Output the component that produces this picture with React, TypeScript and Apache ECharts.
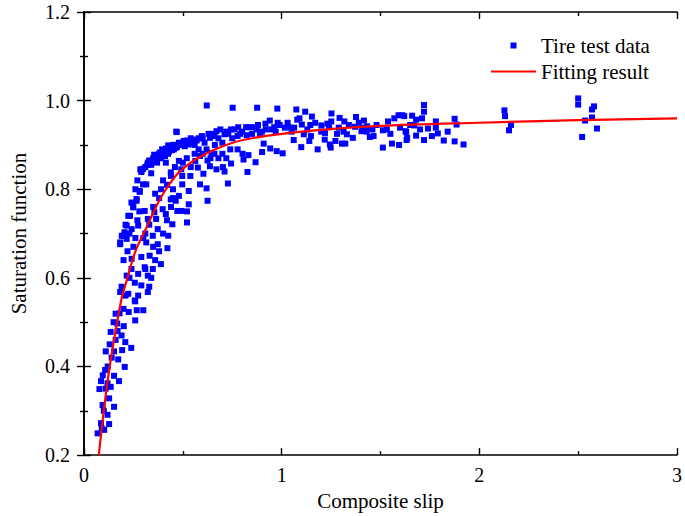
import React, { useEffect, useRef } from "react";
import * as echarts from "echarts";

// Tire test data, low slip region (x < 0.3)
const lowSlipData: [number, number][] = [
  [0.069, 0.249], [0.102, 0.257], [0.086, 0.272], [0.127, 0.27], [0.119, 0.291],
  [0.094, 0.313], [0.152, 0.309], [0.127, 0.328], [0.078, 0.349], [0.135, 0.354],
  [0.086, 0.367], [0.119, 0.362], [0.177, 0.367], [0.152, 0.379], [0.107, 0.392],
  [0.206, 0.399], [0.173, 0.416], [0.11, 0.434], [0.152, 0.434], [0.193, 0.437],
  [0.239, 0.442], [0.209, 0.455], [0.19, 0.47], [0.135, 0.478], [0.201, 0.491],
  [0.168, 0.497], [0.259, 0.504], [0.16, 0.519], [0.226, 0.523], [0.267, 0.527],
  [0.259, 0.547], [0.257, 0.549], [0.183, 0.568], [0.224, 0.564], [0.274, 0.56],
  [0.257, 0.589], [0.29, 0.583], [0.216, 0.605], [0.274, 0.609], [0.241, 0.643],
  [0.29, 0.647], [0.183, 0.676], [0.216, 0.688], [0.191, 0.695], [0.205, 0.703],
  [0.241, 0.71], [0.274, 0.718], [0.216, 0.718], [0.233, 0.74], [0.249, 0.759],
  [0.266, 0.774], [0.282, 0.794], [0.183, 0.68], [0.2, 0.695], [0.224, 0.74],
  [0.249, 0.762], [0.266, 0.778], [0.282, 0.796], [0.299, 0.811], [0.29, 0.841],
  [0.299, 0.846], [0.29, 0.839], [0.3, 0.527],
  [0.09, 0.26], [0.1, 0.3], [0.11, 0.35], [0.095, 0.38], [0.12, 0.4],
  [0.14, 0.42], [0.13, 0.45], [0.16, 0.46], [0.17, 0.48], [0.15, 0.5],
  [0.18, 0.52], [0.2, 0.53], [0.21, 0.56], [0.19, 0.58], [0.23, 0.6],
  [0.24, 0.62], [0.2, 0.64], [0.22, 0.66], [0.25, 0.67], [0.26, 0.69],
  [0.23, 0.7], [0.21, 0.72], [0.27, 0.73], [0.28, 0.75], [0.24, 0.77],
  [0.26, 0.8], [0.27, 0.82], [0.285, 0.845],
];

// Tire test data, transition region (0.3 <= x < 1.0)
const midSlipData: [number, number][] = [
  [0.315, 0.811], [0.323, 0.86], [0.348, 0.864], [0.34, 0.836], [0.373, 0.871],
  [0.398, 0.882], [0.426, 0.899], [0.455, 0.89], [0.469, 0.929], [0.414, 0.86],
  [0.48, 0.864], [0.439, 0.838], [0.492, 0.845], [0.307, 0.751], [0.323, 0.733],
  [0.356, 0.748], [0.365, 0.733], [0.398, 0.755], [0.414, 0.744], [0.439, 0.777],
  [0.48, 0.785], [0.492, 0.751], [0.447, 0.721], [0.426, 0.695], [0.373, 0.71],
  [0.348, 0.695], [0.315, 0.68], [0.373, 0.676], [0.422, 0.667], [0.332, 0.65],
  [0.389, 0.631], [0.348, 0.62], [0.307, 0.624], [0.323, 0.605], [0.323, 0.568],
  [0.31, 0.85], [0.33, 0.865], [0.35, 0.87], [0.36, 0.875], [0.38, 0.88],
  [0.4, 0.885], [0.42, 0.89], [0.44, 0.895], [0.46, 0.9], [0.48, 0.905],
  [0.5, 0.905], [0.52, 0.91], [0.55, 0.905], [0.57, 0.91], [0.6, 0.915],
  [0.39, 0.87], [0.41, 0.875], [0.43, 0.885], [0.34, 0.855], [0.37, 0.86],
  [0.431, 0.897], [0.464, 0.894], [0.505, 0.909], [0.53, 0.901], [0.563, 0.912],
  [0.596, 0.92], [0.637, 0.916], [0.67, 0.931], [0.662, 0.9], [0.711, 0.924],
  [0.744, 0.935], [0.777, 0.92], [0.823, 0.922], [0.835, 0.94], [0.873, 0.935],
  [0.918, 0.948], [0.962, 0.94], [0.909, 0.903], [0.942, 0.892], [0.975, 0.886],
  [0.901, 0.884], [0.777, 0.89], [0.802, 0.88], [0.832, 0.877], [0.807, 0.867],
  [0.868, 0.861], [0.827, 0.839], [0.728, 0.813], [0.645, 0.882], [0.587, 0.875],
  [0.563, 0.864], [0.625, 0.865], [0.637, 0.852], [0.67, 0.845], [0.703, 0.85],
  [0.744, 0.858], [0.711, 0.84], [0.604, 0.835], [0.576, 0.849], [0.587, 0.811],
  [0.62, 0.802], [0.625, 0.774], [0.53, 0.796], [0.497, 0.83], [0.538, 0.83],
  [0.497, 0.811], [0.53, 0.766], [0.521, 0.75], [0.464, 0.774], [0.472, 0.751],
  [0.521, 0.725], [0.621, 0.989], [0.752, 0.984], [0.876, 0.984], [0.978, 0.982],
  [0.467, 0.93], [0.65, 0.925], [0.68, 0.915], [0.72, 0.93], [0.75, 0.915],
  [0.8, 0.93], [0.85, 0.925], [0.88, 0.945], [0.9, 0.93], [0.95, 0.935],
  [0.98, 0.95], [0.7, 0.905], [0.78, 0.94],
  [0.3, 0.69], [0.31, 0.7], [0.33, 0.72], [0.35, 0.76], [0.36, 0.79],
  [0.38, 0.78], [0.39, 0.8], [0.4, 0.82], [0.42, 0.81], [0.44, 0.83],
  [0.45, 0.8], [0.46, 0.85], [0.5, 0.86], [0.52, 0.87], [0.54, 0.85],
  [0.56, 0.88], [0.58, 0.89], [0.6, 0.88], [0.62, 0.89], [0.64, 0.87],
  [0.66, 0.88], [0.68, 0.87], [0.7, 0.88], [0.72, 0.87], [0.74, 0.89],
  [0.34, 0.6], [0.36, 0.64], [0.38, 0.66], [0.4, 0.7], [0.42, 0.73],
  [0.44, 0.76], [0.33, 0.58], [0.31, 0.62], [0.35, 0.67], [0.45, 0.78],
  [0.32, 0.855], [0.345, 0.862], [0.355, 0.878], [0.37, 0.875], [0.385, 0.883],
  [0.395, 0.89], [0.405, 0.878], [0.415, 0.892], [0.425, 0.88], [0.445, 0.888],
  [0.45, 0.9], [0.47, 0.895], [0.49, 0.9], [0.51, 0.897], [0.54, 0.915],
  [0.56, 0.9], [0.58, 0.915], [0.61, 0.905], [0.63, 0.925], [0.66, 0.92],
  [0.69, 0.935], [0.73, 0.925], [0.76, 0.935], [0.79, 0.925], [0.82, 0.94],
  [0.86, 0.94], [0.89, 0.925], [0.92, 0.935], [0.94, 0.955], [0.97, 0.93],
  [0.99, 0.945],
];

// Tire test data, saturated region (x >= 1.0)
const highSlipData: [number, number][] = [
  [1.016, 0.939], [1.005, 0.881], [1.074, 0.98], [1.119, 0.975], [1.153, 0.964],
  [1.079, 0.957], [1.036, 0.94], [1.063, 0.939], [1.102, 0.946], [1.145, 0.945],
  [1.112, 0.924], [1.148, 0.92], [1.14, 0.909], [1.061, 0.911], [1.099, 0.895],
  [1.182, 0.89], [1.201, 0.944], [1.231, 0.948], [1.252, 0.971], [1.251, 0.953],
  [1.219, 0.927], [1.218, 0.912], [1.244, 0.901], [1.272, 0.909], [1.293, 0.961],
  [1.317, 0.953], [1.289, 0.939], [1.313, 0.93], [1.33, 0.924], [1.305, 0.903],
  [1.36, 0.916], [1.376, 0.963], [1.371, 0.941], [1.416, 0.955], [1.413, 0.939],
  [1.432, 0.942], [1.404, 0.931], [1.446, 0.918], [1.465, 0.92], [1.459, 0.935],
  [1.512, 0.933], [1.532, 0.935], [1.538, 0.953], [1.512, 0.894], [1.558, 0.903],
  [1.594, 0.9], [1.591, 0.967], [1.611, 0.967], [1.599, 0.939], [1.627, 0.931],
  [1.635, 0.916], [1.248, 0.894], [1.322, 0.903], [1.632, 0.911],
  [1.72, 0.99], [1.72, 0.975], [1.66, 0.966], [1.68, 0.957], [1.71, 0.96],
  [1.67, 0.944], [1.62, 0.965], [1.63, 0.929], [1.68, 0.921], [1.72, 0.911],
  [1.74, 0.937], [1.78, 0.953], [1.78, 0.939], [1.79, 0.926], [1.82, 0.91],
  [1.875, 0.959], [1.885, 0.946], [1.875, 0.908], [1.92, 0.901],
  [2.127, 0.978], [2.13, 0.965], [2.16, 0.945], [2.15, 0.933],
  [2.5, 1.005], [2.5, 0.991], [2.58, 0.987], [2.57, 0.98], [2.57, 0.962],
  [2.535, 0.955], [2.595, 0.937], [2.52, 0.918],
  [1.03, 0.95], [1.05, 0.93], [1.09, 0.96], [1.13, 0.935], [1.17, 0.95],
  [1.2, 0.93], [1.24, 0.94], [1.28, 0.925], [1.34, 0.945], [1.39, 0.95],
  [1.43, 0.93], [1.48, 0.945], [1.55, 0.925], [1.57, 0.96], [1.65, 0.945],
  [1.7, 0.935], [1.76, 0.92], [1.84, 0.93],
];

// Fitting result curve
const fitSlip = [0.075, 0.1, 0.13, 0.16, 0.19, 0.22, 0.26, 0.32, 0.37, 0.415, 0.48, 0.59, 0.76, 0.93, 1.17, 1.5, 2.0, 2.5, 3.0];
const fitSaturation = [0.2, 0.3, 0.4, 0.48, 0.553, 0.6, 0.66, 0.717, 0.765, 0.8, 0.838, 0.874, 0.906, 0.921, 0.933, 0.943, 0.95, 0.956, 0.96];

const seriesNames = ["Tire test data", "Fitting result"];
const axisNames = { x: "Composite slip", y: "Saturation function" };

export default function App() {
  const ref = useRef<HTMLDivElement>(null);
  useEffect(() => {
    if (!ref.current) return;
    const chart = echarts.init(ref.current, undefined, { renderer: "svg" });
    const font = "'Liberation Serif', 'Times New Roman', serif";
    const axisLine = { show: true, lineStyle: { color: "#000", width: 1.6 } };
    const tick = { show: true, inside: true, length: 7, lineStyle: { color: "#000", width: 1.4 } };
    const minor = { show: true, splitNumber: 2, length: 4, lineStyle: { color: "#000", width: 1.4 } };
    const scatterData = [...lowSlipData, ...midSlipData, ...highSlipData];
    const fitData = fitSlip.map((x, i) => [x, fitSaturation[i]]);
    chart.setOption({
      animation: false,
      grid: { left: 73, right: 4, top: 12, bottom: 59, containLabel: false },
      legend: {
        orient: "vertical",
        left: 486,
        top: 30,
        itemWidth: 45,
        itemHeight: 6,
        itemGap: 5,
        symbolKeepAspect: false,
        data: [
          { name: seriesNames[0], icon: "path://M0,0 M45,6 M19.5,0 H25.5 V6 H19.5 Z" },
          { name: seriesNames[1], icon: "path://M0,0 M45,6 M0,1.9 H45 V4.1 H0 Z" },
        ],
        textStyle: { fontFamily: font, fontSize: 21, color: "#000" },
      },
      xAxis: [
        {
          type: "value",
          min: 0,
          max: 3,
          interval: 1,
          name: axisNames.x,
          nameLocation: "middle",
          nameGap: 30,
          nameTextStyle: { fontFamily: font, fontSize: 21, color: "#000" },
          axisLine,
          axisTick: tick,
          minorTick: minor,
          axisLabel: { fontFamily: font, fontSize: 20, color: "#000", margin: 10 },
          splitLine: { show: false },
        },
        {
          type: "value",
          position: "top",
          min: 0,
          max: 3,
          interval: 1,
          axisLine,
          axisTick: tick,
          minorTick: minor,
          axisLabel: { show: false },
          splitLine: { show: false },
        },
      ],
      yAxis: [
        {
          type: "value",
          min: 0.2,
          max: 1.2,
          interval: 0.2,
          name: axisNames.y,
          nameLocation: "middle",
          nameGap: 55,
          nameTextStyle: { fontFamily: font, fontSize: 21, color: "#000" },
          axisLine,
          axisTick: tick,
          minorTick: minor,
          axisLabel: {
            fontFamily: font,
            fontSize: 20,
            color: "#000",
            margin: 14,
            formatter: (v: number) => v.toFixed(1),
          },
          splitLine: { show: false },
        },
        {
          type: "value",
          position: "right",
          min: 0.2,
          max: 1.2,
          interval: 0.2,
          axisLine,
          axisTick: tick,
          minorTick: minor,
          axisLabel: { show: false },
          splitLine: { show: false },
        },
      ],
      series: [
        {
          name: seriesNames[0],
          type: "scatter",
          symbol: "rect",
          symbolSize: 6,
          itemStyle: { color: "#0000ff", opacity: 1 },
          data: scatterData,
          z: 2,
        },
        {
          name: seriesNames[1],
          type: "line",
          smooth: 0.3,
          showSymbol: false,
          symbol: "none",
          lineStyle: { color: "#ff0000", width: 2.2 },
          itemStyle: { color: "#ff0000" },
          data: fitData,
          z: 3,
        },
      ],
    });
    return () => chart.dispose();
  }, []);
  return <div ref={ref} style={{ width: 685, height: 516, position: "absolute", left: 0, top: 0, background: "#fff" }} />;
}
